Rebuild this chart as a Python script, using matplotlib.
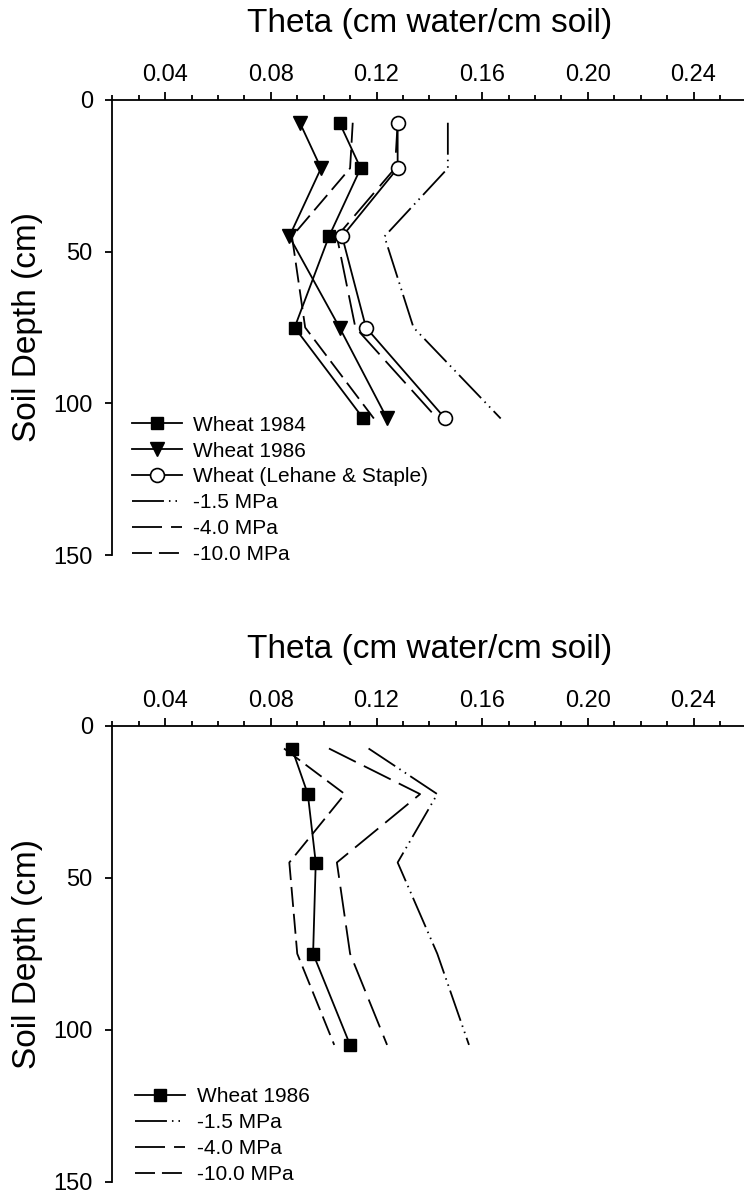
import matplotlib
matplotlib.use("Agg")
import matplotlib.pyplot as plt
from matplotlib.ticker import MultipleLocator, FixedLocator, FormatStrFormatter

plt.rcParams['font.family'] = ['Liberation Sans', 'DejaVu Sans']
plt.rcParams['lines.scale_dashes'] = False

# ---- data ----
depth = [7.5, 22.5, 45, 75, 105]

top_wheat1984 = [0.106, 0.114, 0.102, 0.089, 0.115]
top_wheat1986 = [0.091, 0.099, 0.087, 0.106, 0.124]
top_lehane = [0.128, 0.128, 0.107, 0.116, 0.146]
top_mpa15 = [0.147, 0.147, 0.123, 0.134, 0.167]
top_mpa40 = [0.128, 0.127, 0.105, 0.112, 0.143]
top_mpa100 = [0.111, 0.110, 0.088, 0.093, 0.119]

bot_wheat1986 = [0.088, 0.094, 0.097, 0.096, 0.110]
bot_mpa15 = [0.117, 0.143, 0.128, 0.143, 0.155]
bot_mpa40 = [0.102, 0.1365, 0.105, 0.110, 0.124]
bot_mpa100 = [0.085, 0.108, 0.087, 0.090, 0.104]

x_major = [0.04, 0.08, 0.12, 0.16, 0.20, 0.24]
y_major = [0, 50, 100, 150]
xlabel = 'Theta (cm water/cm soil)'
ylabel = 'Soil Depth (cm)'

# ---- styles ----
LW = 1.3
DASH15 = (0, (23, 3.6, 1.1, 3.6, 1.1, 3.6))
DASH40 = (0, (21.6, 6.5))
DASH100 = (0, (14.4, 5.0))

W, H = 744, 1195
fig = plt.figure(figsize=(W / 100, H / 100), dpi=100)

left_px = 112.3
right_px = 746.4


def make_axes(top_px, bottom_px):
    ax = fig.add_axes([left_px / W, 1 - bottom_px / H,
                       (right_px - left_px) / W, (bottom_px - top_px) / H])
    ax.set_xlim(0.02, 0.26)
    ax.set_ylim(150, 0)
    for s in ('right', 'bottom'):
        ax.spines[s].set_visible(False)
    for s in ('left', 'top'):
        ax.spines[s].set_linewidth(1.3)
    ax.xaxis.tick_top()
    ax.xaxis.set_label_position('top')
    ax.xaxis.set_major_locator(FixedLocator(x_major))
    ax.xaxis.set_minor_locator(MultipleLocator(0.01))
    ax.xaxis.set_major_formatter(FormatStrFormatter('%.2f'))
    ax.yaxis.set_major_locator(FixedLocator(y_major))
    ax.tick_params(axis='x', which='major', direction='out', length=5.5,
                   width=1.3, labelsize=17, pad=4.5)
    ax.tick_params(axis='x', which='minor', direction='out', length=3.6,
                   width=1.3)
    ax.tick_params(axis='y', which='major', direction='out', length=5,
                   width=1.3, labelsize=17, pad=9)
    ax.set_xlabel(xlabel, fontsize=24, va='baseline')
    ax.xaxis.set_label_coords(0.5, 1 + 68 / (bottom_px - top_px))
    ax.set_ylabel(ylabel, fontsize=24, va='center')
    ax.yaxis.set_label_coords((27.5 - left_px) / (right_px - left_px), 0.5)
    return ax


LEG = dict(loc='lower left', frameon=False, fontsize=15, numpoints=1,
           handlelength=2.4, handletextpad=0.55, labelspacing=0.33,
           borderpad=0, borderaxespad=0)

# ---- top panel ----
ax1 = make_axes(100, 555)
ax1.plot(top_wheat1984, depth, color='black', lw=LW, marker='s', ms=9,
         mfc='black', mec='black', label='Wheat 1984', zorder=5)
ax1.plot(top_wheat1986, depth, color='black', lw=LW, marker='v', ms=10,
         mfc='black', mec='black', label='Wheat 1986', zorder=5)
ax1.plot(top_lehane, depth, color='black', lw=LW, marker='o', ms=10,
         mfc='white', mec='black', mew=1.2,
         label='Wheat (Lehane & Staple)', zorder=6)
ax1.plot(top_mpa15, depth, color='black', lw=LW, ls=DASH15, label='-1.5 MPa')
ax1.plot(top_mpa40, depth, color='black', lw=LW, ls=DASH40, label='-4.0 MPa')
ax1.plot(top_mpa100, depth, color='black', lw=LW, ls=DASH100, label='-10.0 MPa')
ax1.legend(bbox_to_anchor=(0.031, -0.02), **LEG)

# ---- bottom panel ----
ax2 = make_axes(725.7, 1181.7)
ax2.plot(bot_wheat1986, depth, color='black', lw=LW, marker='s', ms=9,
         mfc='black', mec='black', label='Wheat 1986', zorder=5)
ax2.plot(bot_mpa15, depth, color='black', lw=LW, ls=DASH15, label='-1.5 MPa')
ax2.plot(bot_mpa40, depth, color='black', lw=LW, ls=DASH40, label='-4.0 MPa')
ax2.plot(bot_mpa100, depth, color='black', lw=LW, ls=DASH100, label='-10.0 MPa')
ax2.legend(bbox_to_anchor=(0.036, -0.005), **LEG)

fig.savefig('out.png', dpi=100)
